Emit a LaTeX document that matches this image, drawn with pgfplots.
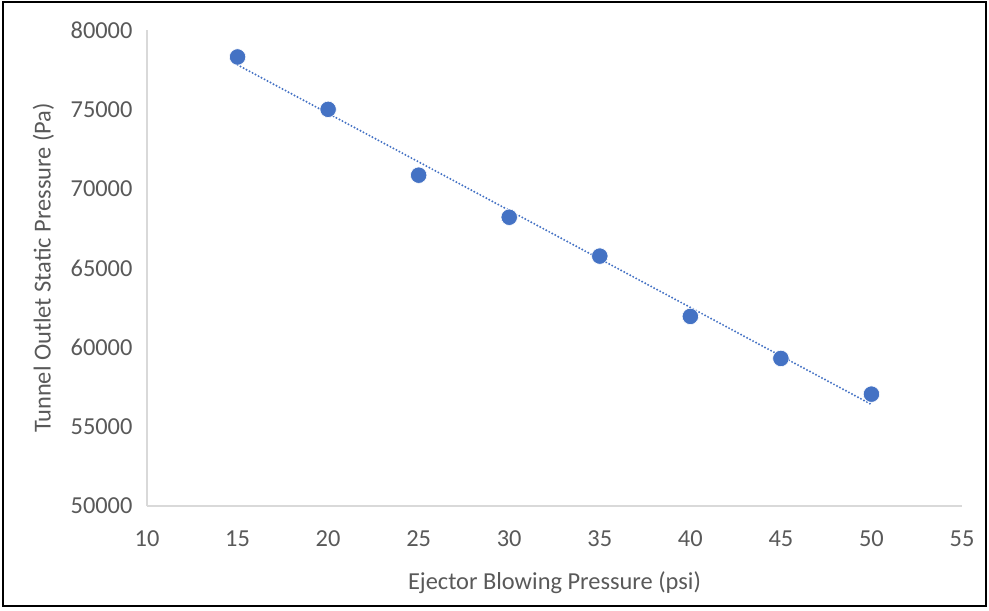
\documentclass[border=0pt]{standalone}
\usepackage{fontspec}
\setmainfont{Carlito}
\usepackage{pgfplots}
\pgfplotsset{compat=1.18}
\definecolor{xlblue}{HTML}{4472C4}
\definecolor{xlgray}{HTML}{D9D9D9}
\definecolor{xltext}{HTML}{595959}

\begin{document}
\begin{tikzpicture}
\fontsize{12.2}{14}\selectfont
% picture area and outer frame (1px = 0.5pt)
\path[use as bounding box] (-73.5pt,-52pt) rectangle (421pt,253pt);
\draw[black, line width=0.8pt] (-72pt,-50pt) rectangle (419.5pt,252pt);
\begin{axis}[
    at={(0,0)}, anchor=origin,
    scale only axis,
    width=407.5pt, height=238pt,
    xmin=10, xmax=55, ymin=50000, ymax=80000,
    xtick={10,15,...,55},
    ytick={50000,55000,...,80000},
    axis x line*=bottom, axis y line*=left,
    axis line style={xlgray, line width=0.9pt, -},
    major tick length=0pt,
    tick label style={font=\fontsize{12.2}{14}\selectfont, text=xltext},
    /pgf/number format/assume math mode=true,
    /pgf/number format/fixed,
    /pgf/number format/1000 sep={},
    scaled y ticks=false,
    xticklabel style={yshift=-8pt},
    yticklabel style={xshift=-3pt},
    xlabel={Ejector Blowing Pressure (psi)},
    ylabel={Tunnel Outlet Static Pressure (Pa)},
    label style={font=\fontsize{12.2}{14}\selectfont, text=xltext},
    xlabel style={yshift=-4pt},
    ylabel style={yshift=0pt},
    clip=false,
]
% linear trendline
\addplot[xlblue, line width=1.1pt, line cap=round, dash pattern=on 0pt off 1.7pt] coordinates {(15,77800) (50,56400)};
% measured points
\addplot[only marks, mark=*, mark size=4.1pt, mark options={fill=xlblue, draw=white, line width=0.3pt}] coordinates {
(15,78300) (20,75000) (25,70850) (30,68200) (35,65750) (40,61950) (45,59300) (50,57050)};
\end{axis}
\end{tikzpicture}
\end{document}
